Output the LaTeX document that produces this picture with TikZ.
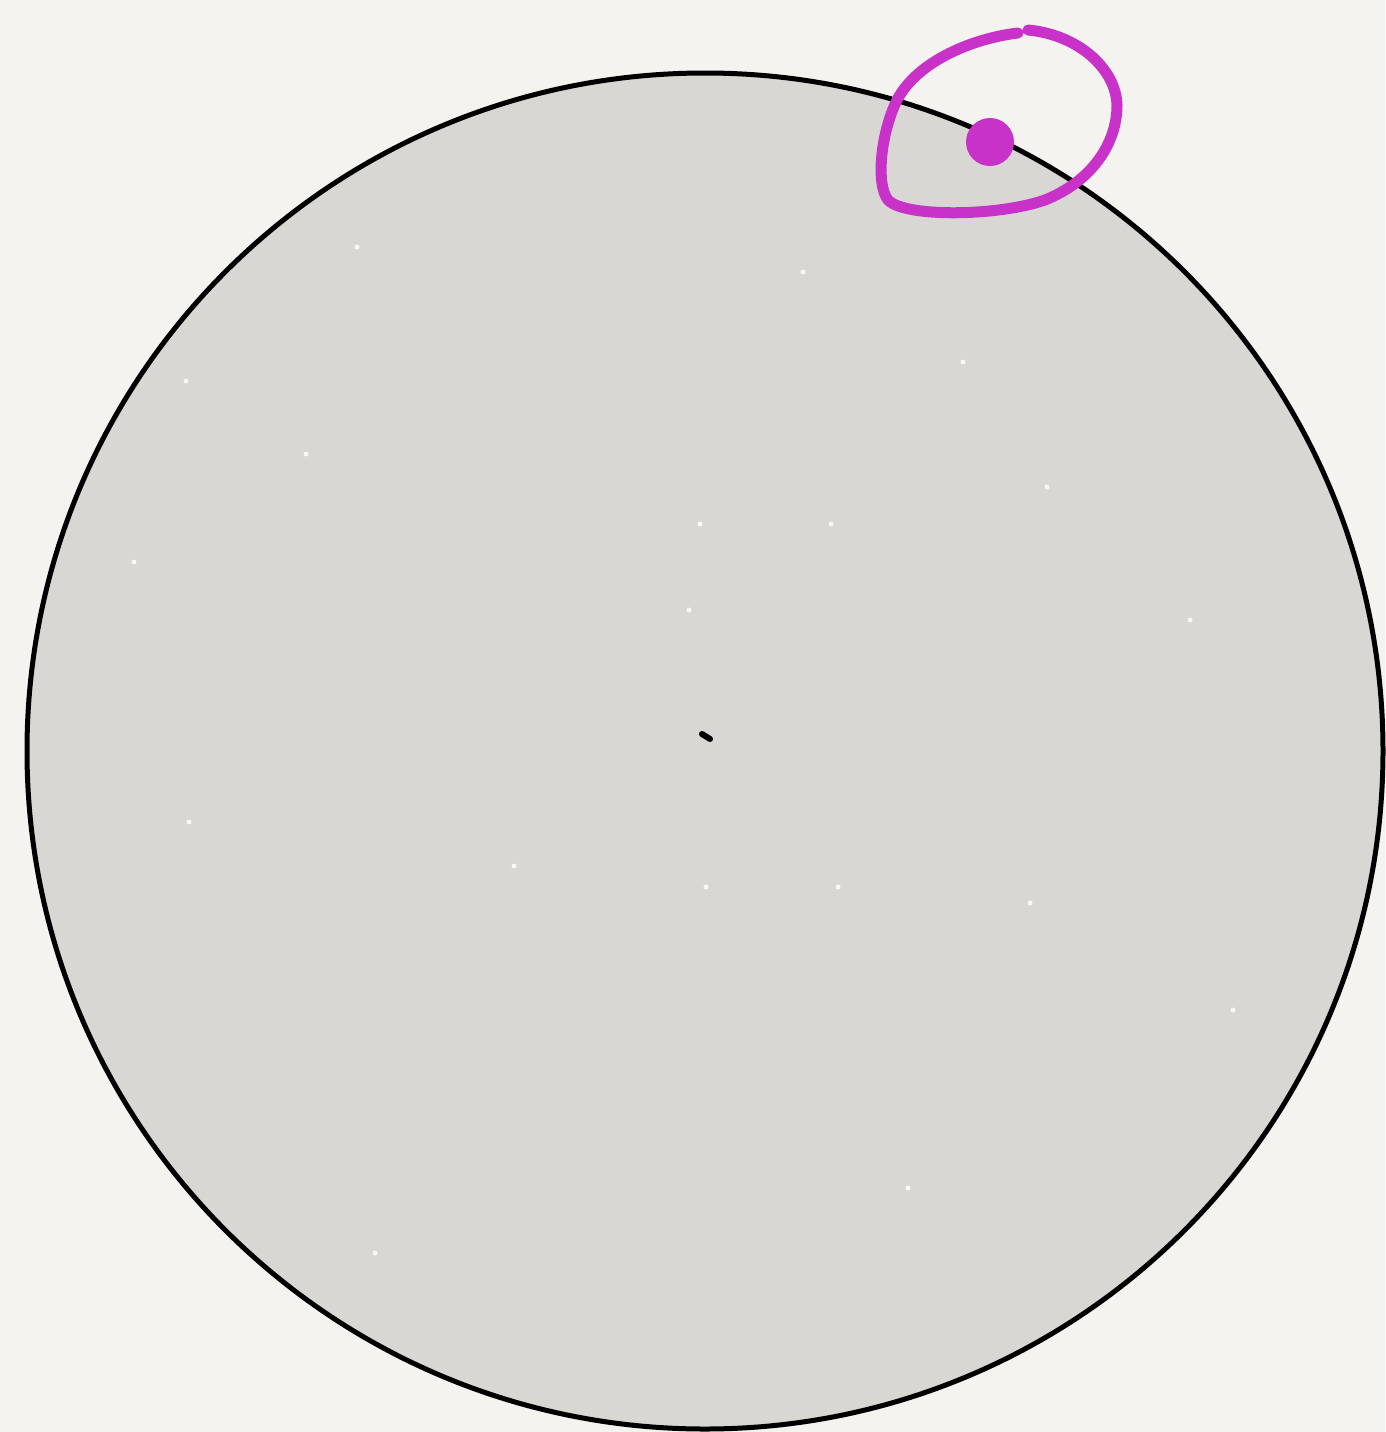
\documentclass[tikz,border=0pt]{standalone}
\begin{document}
\begin{tikzpicture}[x=1pt,y=-1pt,
  outline/.style={draw=black,line width=5pt,fill=disc},
  loopline/.style={draw=mag,line width=11pt,line cap=round,line join=round},
  speck/.style={fill=white,opacity=0.8}]
\definecolor{bgc}{HTML}{F4F3F0}
\definecolor{disc}{HTML}{D8D7D3}
\definecolor{mag}{HTML}{C832C8}
\useasboundingbox (0,0) rectangle (1385,1432);
\fill[bgc] (0,0) rectangle (1385,1432);
\draw[outline] (705,751) circle (678);
\coordinate (c) at (705,751);
% specks
\foreach \p in {(357,247),(186,381),(306,454),(134,562),(700,524),(831,524),(963,362),(1190,620),(1047,487),(189,822),(514,866),(706,887),(838,887),(1030,903),(1233,1010),(375,1253),(908,1188),(803,272),(689,610)}
  \fill[speck] \p circle (2.5);
% center mark
\draw[line width=6pt,line cap=round] (702,734) -- (710,739);
% magenta dot and loop
\node[circle,fill=mag,minimum size=48pt,inner sep=0pt] (dot) at (990,142) {};
\draw[loopline] (1018,33) .. controls (975,38) and (918,60) .. (897,100)
  .. controls (880,135) and (876,185) .. (888,200)
  .. controls (905,218) and (1000,216) .. (1045,200)
  .. controls (1090,182) and (1117,145) .. (1117,105)
  .. controls (1116,70) and (1080,35) .. (1028,30);
\end{tikzpicture}
\end{document}
